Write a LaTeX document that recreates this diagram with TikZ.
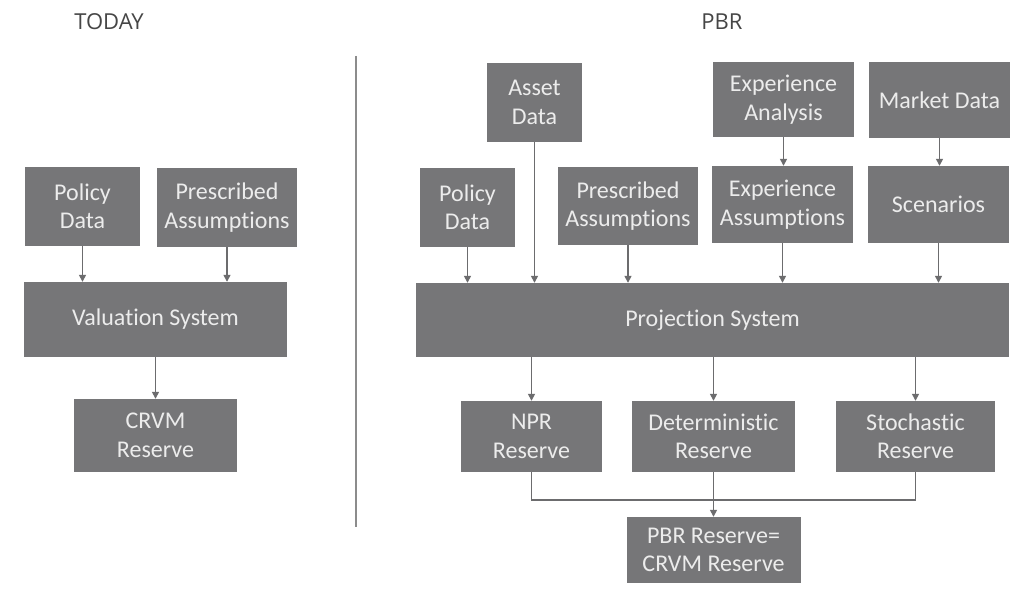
\documentclass[tikz,border=0pt]{standalone}
\usepackage{fontspec}
\setmainfont{Carlito}[Ligatures=NoCommon]
\newfontfamily\titlefont{Open Sans}
\usetikzlibrary{arrows.meta}
\definecolor{boxgray}{RGB}{118,118,120}
\definecolor{linegray}{RGB}{108,108,110}
\definecolor{boxtext}{RGB}{236,236,236}
\definecolor{titlegray}{RGB}{70,70,70}
\tikzset{box/.style 2 args={minimum width=#1,minimum height=#2}}

\begin{document}
\begin{tikzpicture}
  [x=1pt,y=-1pt,
   every node/.style={rectangle,fill=boxgray,text=boxtext,inner sep=0pt,align=center,
     font=\fontsize{24}{28.5}\selectfont},
   title/.style={fill=none,text=titlegray,font=\titlefont\fontsize{22}{26}\selectfont},
   flow/.style={draw=linegray,line width=1.4pt,-{Triangle[length=7pt,width=7pt]}},
   link/.style={draw=linegray,line width=1.4pt}]
  \useasboundingbox[fill=white] (0,0) rectangle (1033,591);

  % titles and divider
  \node[title] (today) at (109,22) {TODAY};
  \node[title] (pbrtitle) at (722,22) {PBR};
  \coordinate (divtop) at (356,56);
  \coordinate (divbot) at (356,527);
  \draw[draw=gray!90,line width=2pt] (divtop) -- (divbot);

  % today
  \node[box={115pt}{79pt}] (pol1) at (82.5,206.5) {Policy\\Data};
  \node[box={140pt}{79pt}] (pre1) at (227,207.5) {Prescribed\\Assumptions};
  \node[box={263pt}{75pt}] (val) at (155.5,319.5) {Valuation System};
  \node[box={163pt}{73pt}] (crvm) at (155.5,435.5) {CRVM\\Reserve};

  % pbr
  \node[box={95pt}{79pt}] (asset) at (534.5,102.5) {Asset\\Data};
  \node[box={141pt}{75pt}] (expa) at (783.5,99.5) {Experience\\Analysis};
  \node[box={141pt}{76pt}] (mkt) at (939.5,100) {Market Data};
  \node[box={95pt}{79pt}] (pol2) at (467.5,207.5) {Policy\\Data};
  \node[box={140pt}{78pt}] (pre2) at (628,206) {Prescribed\\Assumptions};
  \node[box={141pt}{77pt}] (expm) at (782.5,204.5) {Experience\\Assumptions};
  \node[box={141pt}{77pt}] (scen) at (938.5,204.5) {Scenarios};
  \node[box={593pt}{74pt}] (proj) at (712.5,320) {Projection System};
  \node[box={141pt}{71pt}] (npr) at (531.5,436.5) {NPR\\Reserve};
  \node[box={163pt}{71pt}] (det) at (713.5,436.5) {Deterministic\\Reserve};
  \node[box={159pt}{71pt}] (sto) at (915.5,436.5) {Stochastic\\Reserve};
  \node[box={174pt}{66pt}] (pbr) at (713.5,550) {PBR Reserve=\\CRVM Reserve};

  \foreach \from/\to in {pol1/val,pre1/val,pol2/proj,asset/proj,pre2/proj,
      expa/expm,mkt/scen,expm/proj,scen/proj,det/pbr}
    \draw[flow] (\from.south) -- (\from.south |- \to.north);

  \foreach \from/\to in {val/crvm,proj/npr,proj/det,proj/sto}
    \draw[flow] (\from.south -| \to) -- (\to.north);

  \coordinate (merge) at (713.5,500);
  \draw[link] (npr.south) -- (npr.south |- merge) -- (sto.south |- merge) -- (sto.south);

\end{tikzpicture}
\end{document}
